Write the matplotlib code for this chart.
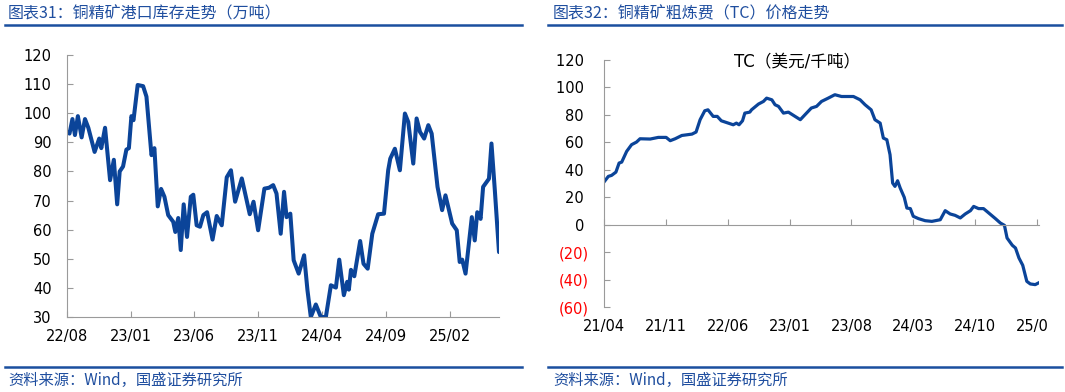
import matplotlib
matplotlib.use("Agg")
import matplotlib.pyplot as plt
import matplotlib.dates as mdates
from matplotlib.lines import Line2D
from matplotlib.transforms import Bbox, TransformedBbox
import pandas as pd

# 铜精矿港口库存（万吨）
stock_dates = [
    "2022-08-01", "2022-08-07", "2022-08-14", "2022-08-20", "2022-08-27", "2022-09-05",
    "2022-09-13", "2022-09-21", "2022-10-06", "2022-10-17", "2022-10-22", "2022-10-31",
    "2022-11-12", "2022-11-21", "2022-11-29", "2022-12-05", "2022-12-13", "2022-12-21",
    "2022-12-27", "2023-01-02", "2023-01-07", "2023-01-17", "2023-01-30", "2023-02-07",
    "2023-02-19", "2023-02-26", "2023-03-06", "2023-03-14", "2023-03-22", "2023-03-31",
    "2023-04-12", "2023-04-17", "2023-04-24", "2023-04-30", "2023-05-07", "2023-05-15",
    "2023-05-24", "2023-05-30", "2023-06-07", "2023-06-15", "2023-06-23", "2023-07-02",
    "2023-07-15", "2023-07-25", "2023-08-06", "2023-08-18", "2023-08-28", "2023-09-07",
    "2023-09-23", "2023-10-12", "2023-10-21", "2023-11-01", "2023-11-16", "2023-11-27",
    "2023-12-07", "2023-12-15", "2023-12-25", "2024-01-02", "2024-01-08", "2024-01-17",
    "2024-01-25", "2024-02-06", "2024-02-19", "2024-02-27", "2024-03-06", "2024-03-18",
    "2024-03-30", "2024-04-11", "2024-04-23", "2024-05-05", "2024-05-13", "2024-05-24",
    "2024-06-01", "2024-06-05", "2024-06-10", "2024-06-18", "2024-07-02", "2024-07-10",
    "2024-07-20", "2024-07-31", "2024-08-14", "2024-08-28", "2024-09-07", "2024-09-12",
    "2024-09-23", "2024-10-05", "2024-10-17", "2024-10-25", "2024-11-06", "2024-11-14",
    "2024-11-22", "2024-12-02", "2024-12-12", "2024-12-20", "2025-01-03", "2025-01-14",
    "2025-01-22", "2025-02-07", "2025-02-18", "2025-02-25", "2025-03-03", "2025-03-11",
    "2025-03-26", "2025-04-02", "2025-04-08", "2025-04-16", "2025-04-22", "2025-05-06",
    "2025-05-12", "2025-05-20", "2025-05-30",
]
stock_values = [
    93.6, 93.0, 98.0, 92.5, 99.0, 91.7,
    98.0, 95.0, 86.7, 91.3, 88.0, 95.0,
    77.0, 84.0, 68.7, 80.0, 81.7, 87.5,
    88.0, 99.0, 97.6, 109.7, 109.3, 105.7,
    85.6, 88.0, 68.0, 74.0, 71.3, 65.0,
    62.7, 59.2, 64.0, 53.0, 68.7, 57.5,
    71.3, 72.0, 61.5, 61.0, 65.0, 66.0,
    56.6, 64.7, 61.5, 78.0, 80.4, 69.6,
    77.6, 65.3, 69.6, 59.8, 74.1, 74.4,
    75.3, 72.4, 58.6, 73.0, 64.3, 65.5,
    49.5, 44.9, 51.2, 39.2, 30.0, 34.3,
    30.0, 30.0, 40.9, 40.1, 49.7, 37.5,
    42.1, 39.4, 46.2, 44.0, 56.1, 48.3,
    46.6, 58.6, 65.3, 65.5, 80.4, 84.4,
    87.8, 80.4, 99.9, 97.0, 82.7, 98.2,
    93.6, 91.3, 95.9, 93.0, 74.7, 66.7,
    71.8, 62.1, 59.8, 48.9, 49.7, 44.9,
    64.3, 56.3, 66.0, 63.7, 74.7, 77.5,
    89.6, 73.6, 52.3,
]
stock_ticks = ["2022-08-01", "2023-01-01", "2023-06-01", "2023-11-01",
               "2024-04-01", "2024-09-01", "2025-02-01"]

# 铜精矿粗炼费 TC（美元/千吨）
tc_dates = [
    "2021-04-01", "2021-04-16", "2021-04-27", "2021-05-12", "2021-05-23", "2021-06-01",
    "2021-06-18", "2021-07-05", "2021-07-22", "2021-08-03", "2021-09-07", "2021-10-05",
    "2021-11-01", "2021-11-15", "2021-12-02", "2021-12-25", "2022-01-29", "2022-02-12",
    "2022-02-26", "2022-03-14", "2022-03-25", "2022-04-12", "2022-04-26", "2022-05-10",
    "2022-06-03", "2022-06-20", "2022-07-01", "2022-07-10", "2022-07-22", "2022-07-30",
    "2022-08-16", "2022-08-22", "2022-09-15", "2022-10-02", "2022-10-13", "2022-10-31",
    "2022-11-11", "2022-11-23", "2022-12-10", "2022-12-27", "2023-01-19", "2023-02-06",
    "2023-02-22", "2023-03-16", "2023-04-03", "2023-04-20", "2023-05-13", "2023-06-05",
    "2023-06-28", "2023-07-21", "2023-08-08", "2023-08-31", "2023-09-17", "2023-10-08",
    "2023-10-21", "2023-11-08", "2023-11-19", "2023-12-01", "2023-12-12", "2023-12-21",
    "2023-12-29", "2024-01-07", "2024-01-16", "2024-01-30", "2024-02-08", "2024-02-20",
    "2024-03-01", "2024-03-19", "2024-04-11", "2024-05-04", "2024-06-02", "2024-06-19",
    "2024-07-06", "2024-07-23", "2024-08-10", "2024-08-27", "2024-09-14", "2024-09-25",
    "2024-10-12", "2024-10-29", "2024-11-16", "2024-12-09", "2024-12-26", "2025-01-09",
    "2025-01-18", "2025-02-05", "2025-02-16", "2025-02-28", "2025-03-13", "2025-03-27",
    "2025-04-08", "2025-04-25", "2025-05-06",
]
tc_values = [
    31.1, 35.2, 35.9, 38.3, 44.9, 45.6,
    53.4, 58.3, 60.2, 62.6, 62.4, 63.6,
    63.6, 61.2, 62.6, 65.0, 66.0, 67.5,
    76.5, 83.0, 83.7, 78.9, 78.9, 75.7,
    74.0, 72.8, 74.0, 72.8, 75.7, 81.3,
    82.0, 83.7, 87.9, 89.8, 92.2, 91.0,
    87.4, 86.2, 81.3, 82.0, 78.9, 76.5,
    80.1, 85.0, 86.2, 89.8, 92.2, 94.7,
    93.4, 93.4, 93.4, 91.0, 87.4, 83.7,
    76.5, 74.0, 63.1, 61.9, 51.0, 30.3,
    27.9, 32.0, 26.7, 19.9, 12.1, 11.7,
    6.1, 4.4, 2.9, 2.4, 3.6, 10.2,
    7.8, 6.8, 4.9, 7.8, 10.2, 13.3,
    11.7, 11.7, 8.5, 4.4, 1.2, -0.5,
    -9.7, -15.0, -17.0, -24.3, -29.6, -41.3,
    -43.2, -43.7, -42.5,
]
tc_ticks = ["2021-04-01", "2021-11-01", "2022-06-01", "2023-01-01",
            "2023-08-01", "2024-03-01", "2024-10-01", "2025-05-01"]

LINE = "#0b4499"
BLUE_TEXT = "#1f4e9f"
GREY = "#9a9a9a"
CJK = ["Noto Sans CJK SC", "DejaVu Sans"]
W, H = 1065, 392

fig = plt.figure(figsize=(W / 100, H / 100), dpi=100)


def fx(px):
    return px / W


def fy(py):
    return 1 - py / H


# --- left chart: port stock ---
ax1 = fig.add_axes([fx(67), fy(317), fx(499) - fx(67), fy(55) - fy(317)])
sd = pd.to_datetime(stock_dates)
ax1.plot(sd, stock_values, color=LINE, lw=2.9, solid_joinstyle="round", solid_capstyle="round")
ax1.set_ylim(30, 120)
ax1.set_yticks(range(30, 121, 10))
ax1.set_xlim(sd[0], sd[-1])
ax1.set_xticks(pd.to_datetime(stock_ticks))
ax1.xaxis.set_major_formatter(mdates.DateFormatter("%y/%m"))
for s in ["top", "right"]:
    ax1.spines[s].set_visible(False)
for s in ["left", "bottom"]:
    ax1.spines[s].set_color(GREY)
ax1.tick_params(axis="both", direction="in", length=4, color=GREY, labelsize=10.5)
ax1.tick_params(axis="y", pad=11)
ax1.tick_params(axis="x", pad=9)

# --- right chart: TC ---
ax2 = fig.add_axes([fx(604), fy(307), fx(1039) - fx(604), fy(60) - fy(307)])
td = pd.to_datetime(tc_dates)
ax2.plot(td, tc_values, color=LINE, lw=2.3, solid_joinstyle="round")
ax2.set_ylim(-60, 120)
yt = list(range(-60, 121, 20))
ax2.set_yticks(yt, [f"({-v})" if v < 0 else f"{v} " for v in yt])
for v, lab in zip(yt, ax2.get_yticklabels()):
    if v < 0:
        lab.set_color("red")
ax2.set_xlim(td[0], pd.Timestamp("2025-05-08"))
ax2.set_xticks(pd.to_datetime(tc_ticks))
ax2.spines["bottom"].set_position(("data", 0))
for s in ["top", "right"]:
    ax2.spines[s].set_visible(False)
for s in ["left", "bottom"]:
    ax2.spines[s].set_color(GREY)
ax2.tick_params(axis="both", direction="in", length=4, color=GREY, labelsize=10.5)
ax2.tick_params(axis="y", pad=11)
ax2.tick_params(axis="x", labelbottom=False)

sec = ax2.secondary_xaxis("bottom")
sec.set_xticks(mdates.date2num(pd.to_datetime(tc_ticks)))
sec.xaxis.set_major_formatter(mdates.DateFormatter("%y/%m"))
sec.spines["bottom"].set_visible(False)
sec.tick_params(axis="x", length=0, labelsize=10.5, pad=9)

ax2.text(0.444, 0.992, "TC（美元/千吨）", transform=ax2.transAxes, ha="center", va="center",
         fontsize=12, family=["DejaVu Sans", "Noto Sans CJK SC"])

# --- headers and footers ---
fig.text(fx(8), fy(14), "图表31：铜精矿港口库存走势（万吨）", color=BLUE_TEXT, fontsize=11.5,
         family=CJK, va="center", ha="left", style="italic")
fig.text(fx(553), fy(14), "图表32：铜精矿粗炼费（TC）价格走势", color=BLUE_TEXT, fontsize=11.5,
         family=CJK, va="center", ha="left", style="italic")
fig.text(fx(8), fy(380), "资料来源：Wind，国盛证券研究所", color=BLUE_TEXT, fontsize=11,
         family=CJK, va="center", ha="left", style="italic")
fig.text(fx(553), fy(380), "资料来源：Wind，国盛证券研究所", color=BLUE_TEXT, fontsize=11,
         family=CJK, va="center", ha="left", style="italic")
for x0, x1 in [(5, 522), (548, 1062)]:
    fig.add_artist(Line2D([fx(x0), fx(x1)], [fy(25), fy(25)], transform=fig.transFigure,
                          color="#1a4f9f", lw=1.8))
    fig.add_artist(Line2D([fx(x0), fx(x1)], [fy(367), fy(367)], transform=fig.transFigure,
                          color="#1a4f9f", lw=1.8))

# the reference cuts off the last date label at the picture edge
clip = TransformedBbox(Bbox([[0, 0], [fx(1048), 1]]), fig.transFigure)
for t in sec.xaxis.get_major_ticks():
    t.label1.set_clip_on(True)
    t.label1.set_clip_box(clip)

fig.savefig("out.png", dpi=100)
